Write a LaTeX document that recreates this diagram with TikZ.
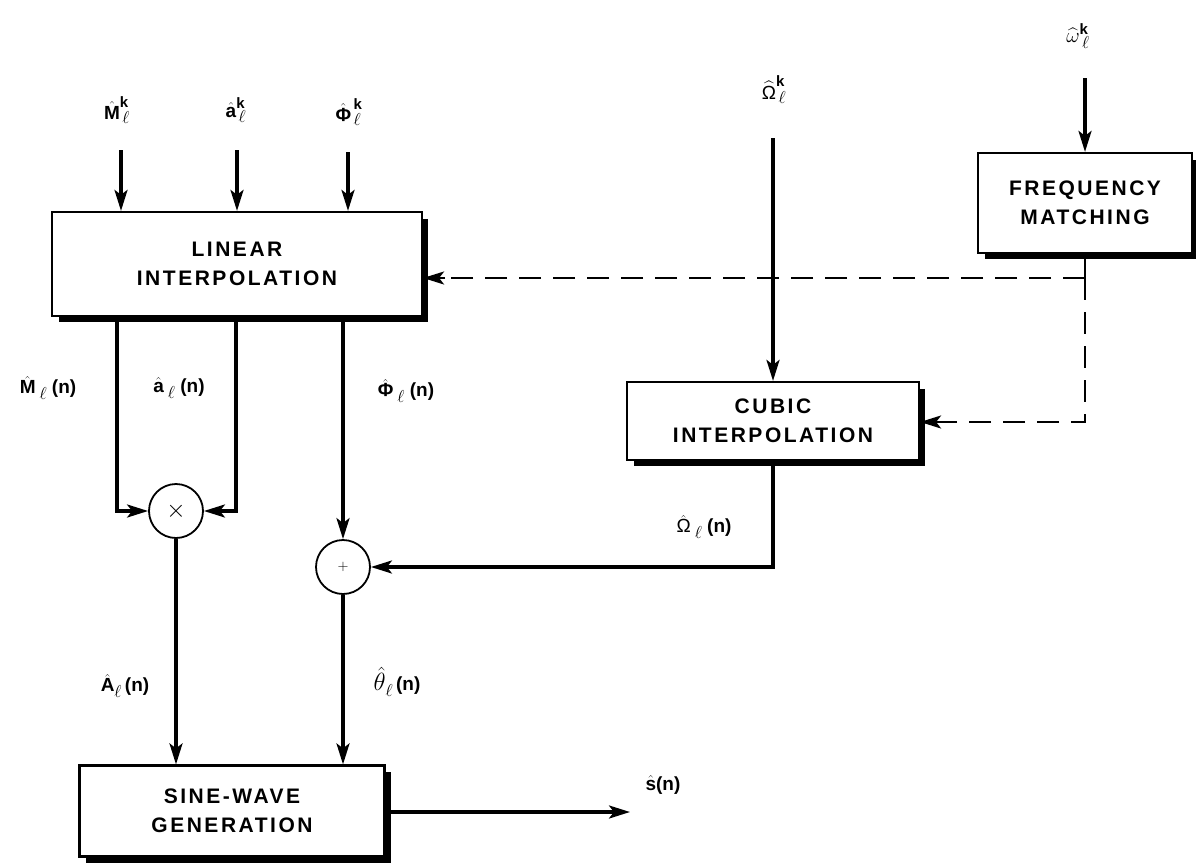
\documentclass[tikz,border=0pt]{standalone}
\usepackage{fontspec}
\usepackage{amsmath}
\setmainfont{Liberation Sans}
\newfontfamily\boxfont[LetterSpace=12]{Liberation Sans}
\usetikzlibrary{arrows.meta,calc}
\newcommand{\myell}{\text{\fontsize{16}{16}\selectfont$\ell$}}
\newcommand{\myk}{\text{\fontsize{15}{15}\selectfont\bfseries k}}
\begin{document}
\begin{tikzpicture}[x=1pt,y=-1pt,
  line width=3.2pt,
  arr/.style={-{Stealth[length=21pt,width=13pt,inset=5pt]}},
  blk/.style={draw,line width=2.2pt,rectangle,align=center,
    font=\boxfont\fontsize{21}{29}\selectfont\bfseries,inner sep=0pt},
  shd/.style={line width=5pt},
  sumc/.style={draw,circle,line width=1.8pt,minimum size=54pt,inner sep=0pt},
  lbl/.style={font=\fontsize{19}{21}\selectfont\bfseries,inner sep=0pt},
  dsh/.style={dash pattern=on 22pt off 12pt,line width=2.2pt}]
\useasboundingbox (0,0) rectangle (1196,862);

% blocks
\node[blk,minimum width=370pt,minimum height=104pt] (lin) at (237,264) {LINEAR\\INTERPOLATION};
\node[blk,minimum width=214pt,minimum height=100pt] (freq) at (1085,203) {FREQUENCY\\MATCHING};
\node[blk,minimum width=292pt,minimum height=78pt] (cub) at (773,421) {CUBIC\\INTERPOLATION};
\node[blk,minimum width=305pt,minimum height=91pt] (sine) at (232,811) {SINE-WAVE\\GENERATION};

% shadows
\foreach \b in {lin,freq,cub,sine}{
  \draw[shd] ($(\b.north east)+(2.5,8)$) -- ($(\b.south east)+(2.5,2.5)$) -- ($(\b.south west)+(8,2.5)$);
}

% summing junctions
\node[sumc,font=\fontsize{24}{24}\selectfont] (mul) at (176,511) {$\times$};
\node[sumc,font=\fontsize{14}{14}\selectfont] (add) at (343,567) {$+$};

% free ends
\coordinate (inM) at (121,150);
\coordinate (inA) at (237,150);
\coordinate (inP) at (348,152);
\coordinate (inO) at (773,138);
\coordinate (inW) at (1085,78);
\coordinate (outS) at (630,812);

% input arrows
\draw[arr] (inM) -- (inM |- lin.north);
\draw[arr] (inA) -- (inA |- lin.north);
\draw[arr] (inP) -- (inP |- lin.north);
\draw[arr] (inO) -- (cub.north);
\draw[arr] (inW) -- (freq.north);

% dashed control lines
\coordinate (dj) at (1085,278);
\coordinate (dk) at (1085,422);
\draw[line width=2.2pt] (freq.south) -- (dj);
\draw[dsh] (dj) -- ($(lin.east |- dj)+(20,0)$);
\draw[arr,line width=2.2pt] ($(lin.east |- dj)+(22,0)$) -- (lin.east |- dj);
\draw[dsh] (dj) -- (dk) -- ($(cub.east |- dk)+(20,0)$);
\draw[arr,line width=2.2pt] ($(cub.east |- dk)+(22,0)$) -- (cub.east |- dk);

% outputs of linear interpolation
\draw[arr] (117,316) |- (mul.west);
\draw[arr] (236,316) |- (mul.east);
\draw[arr] (add.north |- lin.south) -- (add.north);

% cubic output
\draw[arr] (cub.south) |- (add.east);

% to sine-wave generation
\draw[arr] (mul.south) -- (mul.south |- sine.north);
\draw[arr] (add.south) -- (add.south |- sine.north);
\draw[arr] (sine.east |- outS) -- (outS);

% labels
\node[lbl] (lM) at (117,110) {$\hat{\textbf{M}}^{\myk}_{\,\myell}$};
\node[lbl] (lA) at (236,110) {$\hat{\textbf{a}}^{\myk}_{\,\myell}$};
\node[lbl] (lP) at (349,112) {$\hat{\text{Φ}}^{\,\myk}_{\,\myell}$};
\node[lbl] (lO) at (774,90) {$\widehat{\text{\mdseries Ω}}^{\myk}_{\,\myell}$};
\node[lbl] (lW) at (1078,36) {$\widehat{\text{\fontsize{22}{22}\selectfont$\omega$}}^{\myk}_{\,\myell}$};
\node[lbl] (lMn) at (48,388) {$\hat{\textbf{M}}_{\;\myell}\;$(n)};
\node[lbl] (lAn) at (179,388) {$\hat{\textbf{a}}_{\;\myell}\;$(n)};
\node[lbl] (lPn) at (406,391) {$\hat{\text{Φ}}_{\;\myell}\;$(n)};
\node[lbl] (lOn) at (704,527) {$\hat{\text{\mdseries Ω}}_{\;\myell}\;$(n)};
\node[lbl] (lAA) at (125,686) {$\hat{\textbf{A}}_{\myell}\,$(n)};
\node[lbl] (lTh) at (397,682) {$\text{\fontsize{27}{27}\selectfont$\hat{\theta}$}_{\myell}\,$(n)};
\node[lbl] (lS) at (663,785) {$\hat{\textbf{s}}$(n)};
\end{tikzpicture}
\end{document}
